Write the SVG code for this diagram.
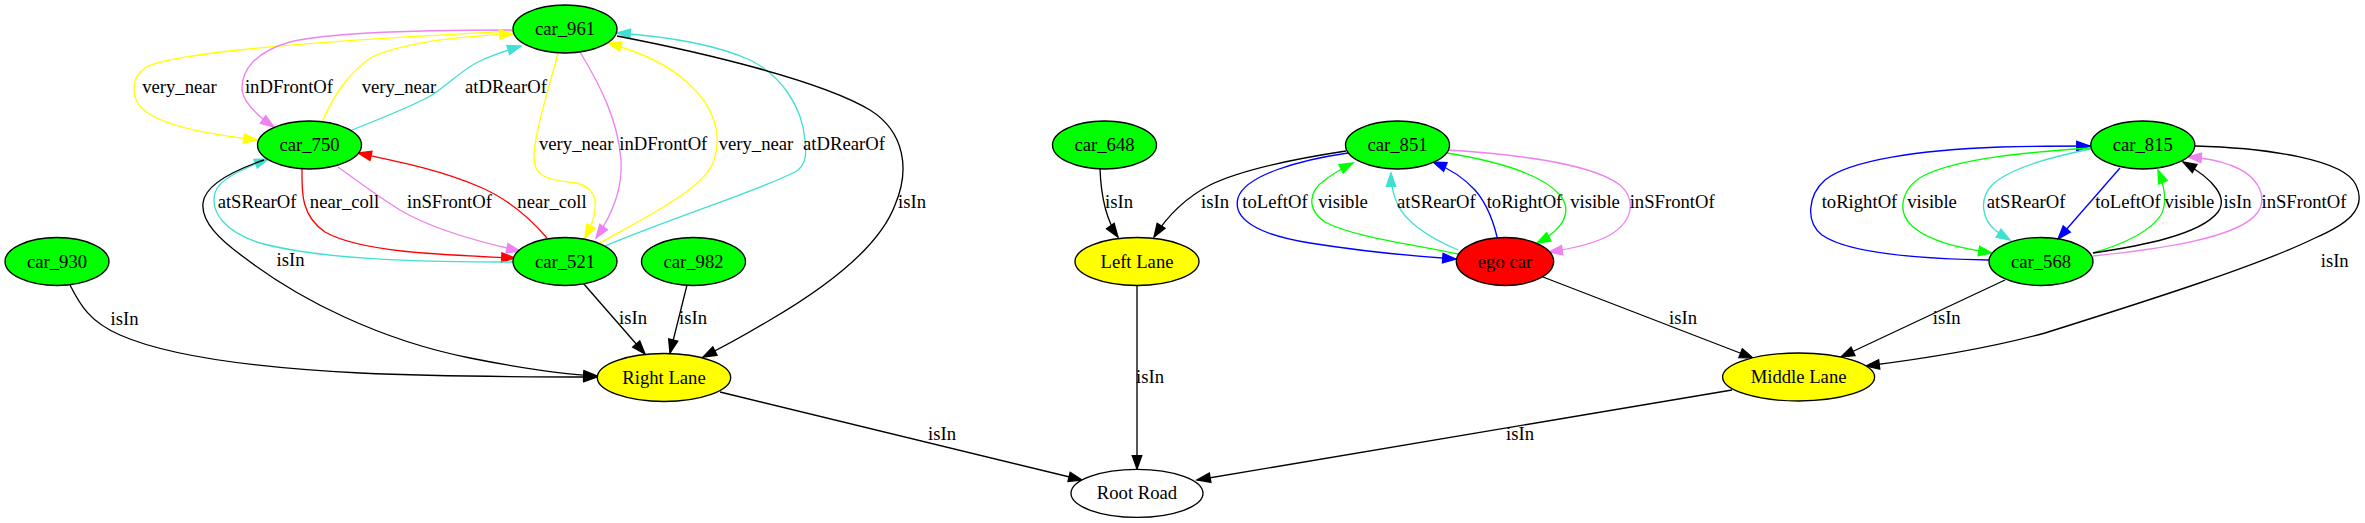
<svg xmlns="http://www.w3.org/2000/svg" width="2365" height="523" viewBox="0 0 2365 523">
<style>
.n ellipse{stroke:#000;stroke-width:1.33}
.g{fill:#00ff00}.y{fill:#ffff00}.r{fill:#ff0000}.w{fill:#ffffff}
text{font-family:"Liberation Serif","Times New Roman",serif;font-size:18.67px;fill:#000;text-anchor:middle}
.e path{fill:none;stroke-width:1.33}
.k{stroke:#000;marker-end:url(#mk)}
.ye{stroke:#ffff00;marker-end:url(#my)}
.vi{stroke:#ee82ee;marker-end:url(#mv)}
.tu{stroke:#40e0d0;marker-end:url(#mt)}
.re{stroke:#ff0000;marker-end:url(#mr)}
.bl{stroke:#0000ff;marker-end:url(#mb)}
.gr{stroke:#00ff00;marker-end:url(#mg)}
</style>
<defs>
<marker id="mk" markerUnits="userSpaceOnUse" orient="auto" refX="13.3" refY="0" overflow="visible"><path d="M0,-4.7L13.3,0L0,4.7z" fill="#000" stroke="#000" stroke-width="1.33"/></marker>
<marker id="my" markerUnits="userSpaceOnUse" orient="auto" refX="13.3" refY="0" overflow="visible"><path d="M0,-4.7L13.3,0L0,4.7z" fill="#ffff00" stroke="#ffff00" stroke-width="1.33"/></marker>
<marker id="mv" markerUnits="userSpaceOnUse" orient="auto" refX="13.3" refY="0" overflow="visible"><path d="M0,-4.7L13.3,0L0,4.7z" fill="#ee82ee" stroke="#ee82ee" stroke-width="1.33"/></marker>
<marker id="mt" markerUnits="userSpaceOnUse" orient="auto" refX="13.3" refY="0" overflow="visible"><path d="M0,-4.7L13.3,0L0,4.7z" fill="#40e0d0" stroke="#40e0d0" stroke-width="1.33"/></marker>
<marker id="mr" markerUnits="userSpaceOnUse" orient="auto" refX="13.3" refY="0" overflow="visible"><path d="M0,-4.7L13.3,0L0,4.7z" fill="#ff0000" stroke="#ff0000" stroke-width="1.33"/></marker>
<marker id="mb" markerUnits="userSpaceOnUse" orient="auto" refX="13.3" refY="0" overflow="visible"><path d="M0,-4.7L13.3,0L0,4.7z" fill="#0000ff" stroke="#0000ff" stroke-width="1.33"/></marker>
<marker id="mg" markerUnits="userSpaceOnUse" orient="auto" refX="13.3" refY="0" overflow="visible"><path d="M0,-4.7L13.3,0L0,4.7z" fill="#00ff00" stroke="#00ff00" stroke-width="1.33"/></marker>
</defs>
<rect width="2365" height="523" fill="#fff"/>
<g id="edges" class="e">
<path class="ye" d="M513,31 C420,36 175,48 145,68 C130,78 130,100 146,112 C170,128 215,135 257,140"/>
<path class="vi" d="M512,30 C440,30 330,32 290,42 C255,52 242,70 242,88 C242,102 258,116 274,127"/>
<path class="ye" d="M322,122 C332,100 345,75 372,57 C410,40 470,36 513,34"/>
<path class="tu" d="M352,130 C390,115 415,105 432,95 C450,83 462,70 478,62 C490,56 505,51 521,46"/>
<path class="re" d="M302,169 C302,190 300,215 325,232 C360,252 440,255 515,258"/>
<path class="re" d="M547,238 C530,218 510,200 480,187 C440,170 400,162 358,153"/>
<path class="vi" d="M338,167 C360,183 380,198 400,210 C425,225 470,240 520,251"/>
<path class="tu" d="M515,262 C450,262 330,262 260,243 C225,232 210,212 215,193 C218,180 240,170 268,159"/>
<path class="k" d="M264,160 C235,170 205,185 203,203 C201,222 220,240 245,258 C300,300 380,340 470,358 C520,368 560,374 597,376"/>
<path class="k" d="M70,285 C80,305 90,322 120,335 C170,357 260,368 360,373 C450,377 530,377 597,377"/>
<path class="ye" d="M558,53 C550,85 535,130 534,155 C533,175 545,180 570,182 C590,184 597,195 595,210 C594,220 590,228 585,238"/>
<path class="vi" d="M580,52 C600,85 618,120 621,160 C623,190 612,215 596,238"/>
<path class="ye" d="M600,243 C650,215 700,190 712,165 C725,135 712,105 690,85 C670,65 640,52 608,43"/>
<path class="tu" d="M605,246 C680,215 760,190 795,172 C808,165 806,150 805,140 C802,105 780,75 750,60 C710,42 660,36 617,33"/>
<path class="k" d="M617,36 C700,52 820,80 870,110 C905,132 910,170 895,205 C880,245 830,285 770,320 C745,335 725,346 703,357"/>
<path class="k" d="M583,283 L645,354"/>
<path class="k" d="M687,285 L670,353"/>
<path class="k" d="M720,392 L1082,480"/>
<path class="k" d="M1100,169 C1101,195 1106,220 1118,237"/>
<path class="k" d="M1346,151 C1300,158 1245,168 1210,185 C1185,198 1168,215 1154,237"/>
<path class="bl" d="M1348,153 C1300,160 1245,175 1238,198 C1232,220 1260,235 1310,243 C1360,251 1410,256 1456,259"/>
<path class="gr" d="M1458,254 C1410,244 1350,236 1325,222 C1305,208 1310,190 1325,180 C1335,172 1343,168 1353,163"/>
<path class="tu" d="M1458,250 C1430,238 1405,222 1397,203 C1392,192 1391,182 1391,173"/>
<path class="bl" d="M1499,246 C1495,225 1488,205 1475,190 C1462,176 1448,168 1433,162"/>
<path class="gr" d="M1447,153 C1490,160 1540,172 1560,195 C1572,210 1566,228 1537,243"/>
<path class="vi" d="M1448,150 C1510,154 1590,162 1620,185 C1635,198 1635,220 1610,235 C1592,245 1570,249 1549,252"/>
<path class="k" d="M1137,285 L1137,469"/>
<path class="k" d="M1543,277 L1753,358"/>
<path class="k" d="M1732,390 L1197,480"/>
<path class="bl" d="M1989,260 C1930,259 1850,255 1822,235 C1805,222 1808,195 1825,180 C1850,160 1920,150 2000,147 C2040,146 2065,146 2090,146"/>
<path class="gr" d="M2091,148 C2030,152 1960,158 1925,175 C1900,188 1897,212 1912,226 C1930,242 1960,248 1992,253"/>
<path class="tu" d="M2091,149 C2055,156 2010,168 1992,185 C1978,200 1983,220 1995,230 C2000,234 2005,237 2010,240"/>
<path class="bl" d="M2120,168 L2058,239"/>
<path class="gr" d="M2093,253 C2120,245 2150,232 2161,215 C2168,202 2164,185 2158,170"/>
<path class="k" d="M2093,253 C2140,246 2200,235 2218,212 C2228,198 2215,180 2183,162"/>
<path class="vi" d="M2093,256 C2160,249 2240,238 2258,212 C2268,196 2258,175 2230,165 C2217,160 2203,158 2188,157"/>
<path class="k" d="M2195,146 C2270,148 2345,160 2356,185 C2368,210 2345,225 2315,238 C2260,265 2150,300 2045,333 C1990,348 1930,358 1866,366"/>
<path class="k" d="M2005,280 L1841,357"/>
<g id="edge-labels">
<text x="179.5" y="93">very_near</text>
<text x="289" y="93">inDFrontOf</text>
<text x="399" y="93">very_near</text>
<text x="506" y="93">atDRearOf</text>
<text x="257" y="208">atSRearOf</text>
<text x="344.5" y="208">near_coll</text>
<text x="449.5" y="208">inSFrontOf</text>
<text x="552" y="208">near_coll</text>
<text x="290.5" y="266">isIn</text>
<text x="576.3" y="150">very_near</text>
<text x="663.3" y="150">inDFrontOf</text>
<text x="756" y="150">very_near</text>
<text x="844" y="150">atDRearOf</text>
<text x="912" y="208">isIn</text>
<text x="124.5" y="325">isIn</text>
<text x="633" y="324">isIn</text>
<text x="693" y="324">isIn</text>
<text x="942" y="440">isIn</text>
<text x="1119" y="208">isIn</text>
<text x="1215" y="208">isIn</text>
<text x="1275" y="208">toLeftOf</text>
<text x="1343" y="208">visible</text>
<text x="1436.3" y="208">atSRearOf</text>
<text x="1524.5" y="208">toRightOf</text>
<text x="1595" y="208">visible</text>
<text x="1672.2" y="208">inSFrontOf</text>
<text x="1150" y="383">isIn</text>
<text x="1683" y="324">isIn</text>
<text x="1520" y="440">isIn</text>
<text x="1859.5" y="208">toRightOf</text>
<text x="1932" y="208">visible</text>
<text x="2026" y="208">atSRearOf</text>
<text x="2128" y="208">toLeftOf</text>
<text x="2189.3" y="208">visible</text>
<text x="2237.5" y="208">isIn</text>
<text x="2304" y="208">inSFrontOf</text>
<text x="2334.7" y="267">isIn</text>
<text x="1946.7" y="324">isIn</text>
</g>
</g>
<g id="car_961" class="n"><ellipse class="g" cx="565" cy="29" rx="52" ry="24"/><text x="565" y="35">car_961</text></g>
<g id="car_750" class="n"><ellipse class="g" cx="309.5" cy="145" rx="52" ry="24"/><text x="309.5" y="151">car_750</text></g>
<g id="car_930" class="n"><ellipse class="g" cx="57" cy="261.5" rx="52" ry="24"/><text x="57" y="267.5">car_930</text></g>
<g id="car_521" class="n"><ellipse class="g" cx="565" cy="261.5" rx="52" ry="24"/><text x="565" y="267.5">car_521</text></g>
<g id="car_982" class="n"><ellipse class="g" cx="693.5" cy="261.5" rx="52" ry="24"/><text x="693.5" y="267.5">car_982</text></g>
<g id="right_lane" class="n"><ellipse class="y" cx="664" cy="377.5" rx="66.7" ry="24"/><text x="664" y="383.5">Right Lane</text></g>
<g id="car_648" class="n"><ellipse class="g" cx="1104.5" cy="145" rx="52" ry="24"/><text x="1104.5" y="151">car_648</text></g>
<g id="left_lane" class="n"><ellipse class="y" cx="1137" cy="261.5" rx="62" ry="24"/><text x="1137" y="267.5">Left Lane</text></g>
<g id="car_851" class="n"><ellipse class="g" cx="1397.5" cy="145" rx="52" ry="24"/><text x="1397.5" y="151">car_851</text></g>
<g id="ego_car" class="n"><ellipse class="r" cx="1505" cy="261.5" rx="48.7" ry="24"/><text x="1505" y="267.5">ego car</text></g>
<g id="car_815" class="n"><ellipse class="g" cx="2142.8" cy="145" rx="52" ry="24"/><text x="2142.8" y="151">car_815</text></g>
<g id="car_568" class="n"><ellipse class="g" cx="2041" cy="261.5" rx="52" ry="24"/><text x="2041" y="267.5">car_568</text></g>
<g id="middle_lane" class="n"><ellipse class="y" cx="1798.6" cy="377" rx="76" ry="24"/><text x="1798.6" y="383">Middle Lane</text></g>
<g id="root_road" class="n"><ellipse class="w" cx="1137" cy="493.3" rx="66" ry="24"/><text x="1137" y="499.3">Root Road</text></g>
</svg>
